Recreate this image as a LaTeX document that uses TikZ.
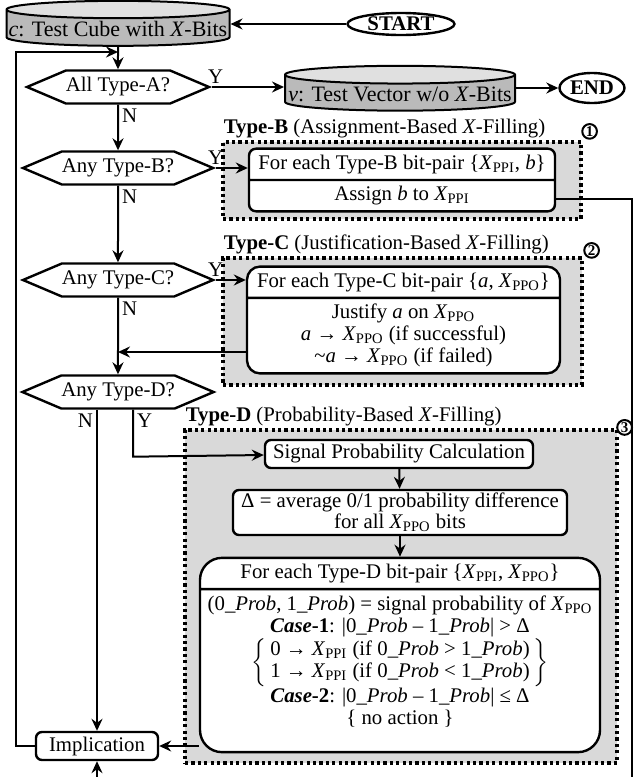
\documentclass[tikz,border=0pt]{standalone}
\usepackage{fontspec}
\setmainfont{Liberation Serif}
\usetikzlibrary{positioning,arrows.meta,shapes.geometric,shapes.multipart,shapes.symbols}
\newcommand{\Xs}[1]{\textit{X}\textsubscript{#1}}
\newcommand{\Pb}{\textit{Prob}}
\tikzset{
  decide/.style={signal, signal to=west and east, signal pointer angle=46,
                 draw, line width=1.2pt, fill=white, minimum width=85pt,
                 minimum height=16.5pt, inner sep=0pt},
  store/.style={cylinder, shape border rotate=90, aspect=0.078, draw,
                line width=1pt, cylinder uses custom fill,
                cylinder body fill=black!27, cylinder end fill=black!12,
                inner sep=1pt, minimum height=19.5pt,
                font=\fontsize{11pt}{12pt}\selectfont},
  term/.style={ellipse, draw, line width=1.2pt, fill=white, font=\bfseries,
               inner sep=0pt},
  stepbox/.style={rectangle, rounded corners=3pt, draw, line width=1.2pt,
                  fill=white, align=center, inner sep=0pt},
  pairbox/.style={rectangle split, rectangle split parts=2, draw,
                  line width=1.2pt, fill=white, align=center,
                  inner xsep=1pt, inner ysep=2.5pt},
  group/.style={draw, line width=1.6pt, dash pattern=on 1.6pt off 1.6pt,
                fill=black!15, inner sep=0pt},
  grptitle/.style={anchor=south west, inner sep=1pt},
  tag/.style={circle, draw, line width=1pt, fill=white, inner sep=0.4pt,
              minimum size=7pt, font=\fontsize{7.5pt}{8pt}\selectfont\bfseries},
  flow/.style={-{Stealth[length=6pt,width=5.5pt,inset=2pt]}, line width=1pt},
  thinflow/.style={flow, line width=0.6pt},
  yn/.style={inner sep=1.5pt},
}
\begin{document}
\fontsize{10.4pt}{11pt}\selectfont
\begin{tikzpicture}[x=0.5pt,y=-0.5pt]
  \useasboundingbox (0,0) rectangle (635,777);
  \clip (0,0) rectangle (635,777);
  % shaded groups
  \node[group, minimum width=179pt, minimum height=38.5pt] (grpB) at (402,180.5) {};
  \node[group, minimum width=179.5pt, minimum height=63.5pt] (grpC) at (402.5,321.5) {};
  \node[group, minimum width=216pt, minimum height=166.5pt] (grpD) at (401,596.5) {};
  \node[grptitle] (ttlB) at (grpB.north west) {\textbf{Type-B} (Assignment-Based \textit{X}-Filling)};
  \node[grptitle] (ttlC) at (grpC.north west) {\textbf{Type-C} (Justification-Based \textit{X}-Filling)};
  \node[grptitle] (ttlD) at (grpD.north west) {\textbf{Type-D} (Probability-Based \textit{X}-Filling)};
  \node[tag] (tagB) at ([xshift=3.5pt,yshift=4.5pt]grpB.north east) {1};
  \node[tag] (tagC) at ([xshift=4pt,yshift=3pt]grpC.north east) {2};
  \node[tag] (tagD) at ([xshift=3pt,yshift=0.5pt]grpD.north east) {3};

  % main column
  \node[store, minimum width=111.5pt] (cube) at (118,29)
    {\textit{c}: Test Cube with \textit{X}-Bits};
  \node[term, minimum width=53.5pt, minimum height=11pt] (start) at (401,24) {START};
  \node[decide] (decA) at (118,87) {All Type-A?};
  \node[store, minimum width=115pt] (vec) at (400,94)
    {\textit{v}: Test Vector w/o \textit{X}-Bits};
  \node[term, minimum width=32.5pt, minimum height=15pt] (end) at (592,88) {END};
  \node[decide] (decB) at (118,168) {Any Type-B?};
  \node[decide] (decC) at (118,280) {Any Type-C?};
  \node[decide] (decD) at (118,392) {Any Type-D?};
  \node[stepbox, minimum width=61pt, minimum height=14pt] (impl) at (97,746) {Implication};

  % filling boxes
  \node[pairbox, minimum width=153pt, rounded corners=3.5pt] (boxB) at (402,180)
    {For each Type-B bit-pair \{\Xs{PPI}, \textit{b}\}\nodepart{two}Assign \textit{b} to \Xs{PPI}};
  \node[pairbox, minimum width=156.5pt, rounded corners=6.5pt] (boxC) at (403.5,320)
    {For each Type-C bit-pair \{\textit{a}, \Xs{PPO}\}\nodepart{two}Justify \textit{a} on \Xs{PPO}\\
     \textit{a} → \Xs{PPO} (if successful)\\ \textasciitilde\textit{a} → \Xs{PPO} (if failed)};
  \node[stepbox, minimum width=134pt, minimum height=14pt] (sig) at (399,454)
    {Signal Probability Calculation};
  \node[stepbox, minimum width=167pt, minimum height=22.5pt,
        font=\fontsize{10.4pt}{9pt}\selectfont] (delta) at (400,512.5)
    {Δ = average 0/1 probability difference\\ for all \Xs{PPO} bits};
  \node[pairbox, minimum width=200pt, rounded corners=11pt] (boxD) at (400,655)
    {For each Type-D bit-pair \{\Xs{PPI}, \Xs{PPO}\}\nodepart{two}%
     (0\_\Pb, 1\_\Pb) = signal probability of \Xs{PPO}\\
     \textbf{\textit{Case}-1}: |0\_\Pb\ – 1\_\Pb| > Δ\\
     $\left\{\mbox{\begin{tabular}{@{\,}c@{\,}}0 → \Xs{PPI} (if 0\_\Pb\ > 1\_\Pb)\\
       1 → \Xs{PPI} (if 0\_\Pb\ < 1\_\Pb)\end{tabular}}\right\}$\\
     \textbf{\textit{Case}-2}: |0\_\Pb\ – 1\_\Pb| ≤ Δ\\
     \{ no action \}\rule[-10.5pt]{0pt}{10.5pt}};

  % connectors
  \draw[flow] (start.west) -- (start.west -| cube.east);
  \draw[flow] (cube) -- (decA);
  \draw[flow] (decA.east) -- node[yn, anchor=south west, pos=0, xshift=-4pt]{Y} (vec.west |- decA.east);
  \draw[flow] (vec.east |- end.west) -- (end.west);
  \draw[flow] (decA) -- node[yn, anchor=north west, pos=0]{N} (decB);
  \draw[flow] (decB) -- node[yn, anchor=north west, pos=0]{N} (decC);
  \draw[flow] (decC) -- node[yn, anchor=north west, pos=0]{N} (decD);
  \draw[flow] (decB.east) -- node[yn, anchor=south west, pos=0, xshift=-6pt]{Y} (decB.east -| boxB.west);
  \draw[flow] (decC.east) -- node[yn, anchor=south west, pos=0, xshift=-6pt]{Y} (decC.east -| boxC.west);
  \coordinate (cret) at (118,352);
  \draw[flow] (boxC.west |- cret) -- (cret);
  \draw[flow] (impl.north |- decD.south) -- node[yn, anchor=north east, pos=0]{N} (impl.north);
  \draw[flow] ([xshift=7.5pt]decD.south) -- node[yn, anchor=north west, pos=0]{Y} ++(0,47) -- (sig.west |- 0,455);
  \draw[flow] (sig) -- (delta);
  \draw[flow] (delta) -- (boxD);
  \draw[thinflow] (boxD.west |- impl.east) -- (impl.east);
  \coordinate (loopin) at (118,52);
  \draw[flow] (impl.west) -- ++(-9.5pt,0) |- (loopin);
  \coordinate (edgeR) at (632,790);
  \draw[thinflow] (boxB.east |- 0,199) -| (edgeR) -| (impl.south);
\end{tikzpicture}
\end{document}
